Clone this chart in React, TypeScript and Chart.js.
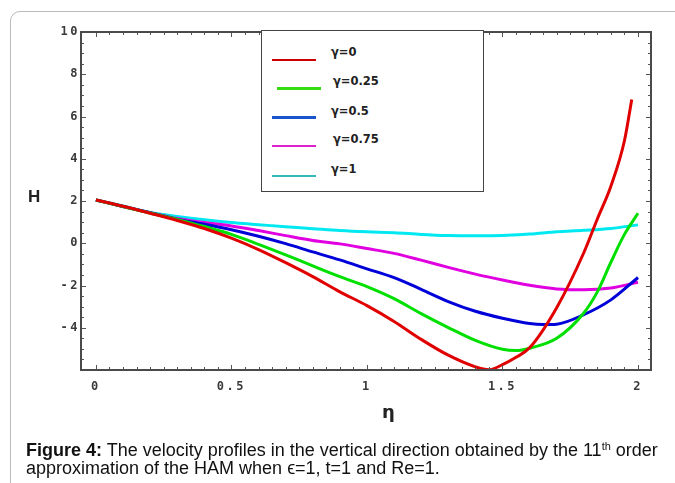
import React, { useEffect, useRef } from 'react';
import { Chart, registerables } from 'chart.js';

Chart.register(...registerables);

// ---- data ----
const gammaLabels = ['γ=0', 'γ=0.25', 'γ=0.5', 'γ=0.75', 'γ=1'];

const redEta = [0, 0.1, 0.2, 0.3, 0.4, 0.5, 0.6, 0.7, 0.8, 0.9, 1.0, 1.1, 1.2, 1.3, 1.4, 1.45, 1.5, 1.55, 1.6, 1.7, 1.8, 1.85, 1.9, 1.95, 1.977];
const redH = [2.05, 1.75, 1.42, 1.08, 0.7, 0.24, -0.3, -0.92, -1.58, -2.3, -2.95, -3.7, -4.55, -5.3, -5.85, -5.99, -5.75, -5.4, -4.95, -3.05, -0.45, 1.15, 2.7, 4.85, 6.81];

const greenEta = [0, 0.1, 0.2, 0.3, 0.4, 0.5, 0.6, 0.7, 0.8, 0.9, 1.0, 1.1, 1.2, 1.3, 1.4, 1.5, 1.55, 1.6, 1.7, 1.8, 1.85, 1.9, 1.95, 2.0];
const greenH = [2.05, 1.74, 1.43, 1.13, 0.79, 0.42, -0.05, -0.55, -1.07, -1.58, -2.05, -2.62, -3.33, -3.99, -4.6, -5.02, -5.08, -4.97, -4.5, -3.3, -2.3, -0.9, 0.42, 1.42];

const blueEta = [0, 0.1, 0.2, 0.3, 0.4, 0.5, 0.6, 0.7, 0.8, 0.9, 1.0, 1.1, 1.2, 1.3, 1.4, 1.5, 1.6, 1.65, 1.7, 1.8, 1.9, 2.0];
const blueH = [2.05, 1.74, 1.44, 1.13, 0.9, 0.64, 0.33, -0.02, -0.41, -0.79, -1.21, -1.63, -2.18, -2.76, -3.22, -3.55, -3.8, -3.85, -3.83, -3.38, -2.68, -1.62];

const magentaEta = [0, 0.1, 0.2, 0.3, 0.4, 0.5, 0.6, 0.7, 0.8, 0.9, 1.0, 1.1, 1.2, 1.3, 1.4, 1.5, 1.6, 1.7, 1.8, 1.9, 2.0];
const magentaH = [2.05, 1.74, 1.45, 1.17, 0.98, 0.82, 0.6, 0.36, 0.13, -0.03, -0.25, -0.48, -0.8, -1.14, -1.46, -1.74, -1.99, -2.16, -2.2, -2.12, -1.85];

const cyanEta = [0, 0.1, 0.2, 0.3, 0.4, 0.5, 0.6, 0.7, 0.8, 0.9, 1.0, 1.1, 1.2, 1.3, 1.4, 1.5, 1.6, 1.7, 1.8, 1.9, 2.0];
const cyanH = [2.05, 1.76, 1.46, 1.27, 1.11, 0.98, 0.88, 0.78, 0.69, 0.6, 0.54, 0.5, 0.42, 0.37, 0.36, 0.37, 0.44, 0.54, 0.61, 0.7, 0.87];

const xTickValues = [0, 0.5, 1, 1.5, 2];
const yTickValues = [-4, -2, 0, 2, 4, 6, 8, 10];

const lineColors = ['#e00000', '#00e000', '#0000d8', '#e000e0', '#00e8f0'];
const legendColors = ['#cc0000', '#33dd11', '#1a55cc', '#dd22cc', '#33bbbb'];

const seriesEta = [redEta, greenEta, blueEta, magentaEta, cyanEta];
const seriesH = [redH, greenH, blueH, magentaH, cyanH];

const framePlugin = {
  id: 'frame',
  beforeDraw(chart: any) {
    (chart.ctx as any).letterSpacing = '2.5px';
  },
  afterDraw(chart: any) {
    const { ctx, chartArea: a, scales } = chart;
    const x = scales.x;
    const y = scales.y;
    ctx.save();
    (ctx as any).letterSpacing = '0px';
    ctx.strokeStyle = '#555';
    ctx.lineWidth = 1;
    ctx.beginPath();
    for (let i = -12; i <= 20; i++) {
      const v = i * 0.5;
      const py = Math.round(y.getPixelForValue(v)) + 0.5;
      const len = i % 4 === 0 ? 5 : 3;
      ctx.moveTo(a.left, py);
      ctx.lineTo(a.left + len, py);
      ctx.moveTo(a.right, py);
      ctx.lineTo(a.right - len, py);
    }
    for (let i = 0; i <= 40; i++) {
      const v = i * 0.05;
      const px = Math.round(x.getPixelForValue(v)) + 0.5;
      const len = i % 10 === 0 ? 5 : 3;
      ctx.moveTo(px, a.bottom);
      ctx.lineTo(px, a.bottom - len);
      ctx.moveTo(px, a.top);
      ctx.lineTo(px, a.top + len);
    }
    ctx.stroke();
    ctx.lineWidth = 2;
    ctx.strokeStyle = '#4a4a4a';
    ctx.strokeRect(a.left, a.top, a.right - a.left, a.bottom - a.top);
    ctx.restore();
  },
};

function ChartCanvas() {
  const ref = useRef<HTMLCanvasElement>(null);
  useEffect(() => {
    if (!ref.current) return;
    const datasets = gammaLabels.map((label, i) => ({
      label,
      data: seriesEta[i].map((e, j) => ({ x: e, y: seriesH[i][j] })),
      borderColor: lineColors[i],
      backgroundColor: lineColors[i],
      borderWidth: 3,
      pointRadius: 0,
      cubicInterpolationMode: 'monotone' as const,
      fill: false,
    }));
    const tickFont = { family: 'DejaVu Sans Mono', weight: 'bold' as const, size: 12 };
    const chart = new Chart(ref.current, {
      type: 'line',
      data: { datasets },
      options: {
        animation: false,
        responsive: false,
        devicePixelRatio: 1,
        layout: { padding: { top: 32, right: 24, left: 0, bottom: 0 } },
        plugins: { legend: { display: false }, tooltip: { enabled: false } },
        scales: {
          x: {
            type: 'linear',
            min: -0.055,
            max: 2.048,
            grid: { display: false, drawTicks: false },
            border: { display: false },
            afterBuildTicks: (s: any) => {
              s.ticks = xTickValues.map((v) => ({ value: v }));
            },
            afterFit: (s: any) => {
              s.height = 113;
            },
            ticks: {
              padding: 10,
              color: '#3a3a3a',
              maxRotation: 0,
              autoSkip: false,
              font: tickFont,
              callback: (v: any) => String(v),
            },
          },
          y: {
            type: 'linear',
            min: -6,
            max: 10,
            grid: { display: false, drawTicks: false },
            border: { display: false },
            afterBuildTicks: (s: any) => {
              s.ticks = yTickValues.map((v) => ({ value: v }));
            },
            afterFit: (s: any) => {
              s.width = 81;
            },
            ticks: {
              padding: 1,
              color: '#3a3a3a',
              autoSkip: false,
              font: tickFont,
              callback: (v: any) => String(v),
            },
          },
        },
      },
      plugins: [framePlugin],
    });
    return () => chart.destroy();
  }, []);
  return (
    <canvas
      ref={ref}
      width={675}
      height={483}
      style={{ position: 'absolute', left: 0, top: 0, width: 675, height: 483 }}
    />
  );
}

export default function App() {
  return (
    <div
      style={{
        position: 'fixed',
        left: 0,
        top: 0,
        width: 675,
        height: 483,
        overflow: 'hidden',
        background: '#fff',
      }}
    >
      <div
        style={{
          position: 'absolute',
          left: 10,
          top: 11,
          width: 720,
          height: 520,
          border: '1px solid #bbb',
          borderRadius: 10,
        }}
      />
      <ChartCanvas />
      <div
        style={{
          position: 'absolute',
          left: 261,
          top: 30,
          width: 221,
          height: 160,
          border: '1.5px solid #444',
          background: '#fff',
        }}
      >
        {gammaLabels.map((lab, i) => {
          const lineY = [29, 57.5, 86.5, 115, 145][i];
          const textY = [21, 50, 80, 108, 138][i];
          const lx = i === 1 ? 15 : 10;
          const tx = i === 1 || i === 3 ? 71 : 69;
          return (
            <React.Fragment key={lab}>
              <div
                style={{
                  position: 'absolute',
                  left: lx,
                  top: lineY - 1.25,
                  width: 44,
                  height: 2.5,
                  background: legendColors[i],
                }}
              />
              <div
                style={{
                  position: 'absolute',
                  left: tx,
                  top: textY - 8,
                  height: 16,
                  lineHeight: '16px',
                  fontFamily: 'DejaVu Sans',
                  fontWeight: 'bold',
                  fontSize: 11.5,
                  color: '#222',
                  whiteSpace: 'nowrap',
                }}
              >
                {lab}
              </div>
            </React.Fragment>
          );
        })}
      </div>
      <div
        style={{
          position: 'absolute',
          left: 28,
          top: 187,
          fontFamily: 'Liberation Sans',
          fontWeight: 'bold',
          fontSize: 17,
          lineHeight: '20px',
          color: '#222',
        }}
      >
        H
      </div>
      <div
        style={{
          position: 'absolute',
          left: 382,
          top: 401,
          fontFamily: 'DejaVu Sans',
          fontWeight: 'bold',
          fontSize: 18,
          lineHeight: '22px',
          color: '#222',
        }}
      >
        η
      </div>
      <div
        style={{
          position: 'absolute',
          left: 26,
          top: 441,
          fontFamily: 'Liberation Sans, Arial, sans-serif',
          fontSize: 18,
          lineHeight: '18px',
          color: '#111',
          whiteSpace: 'nowrap',
        }}
      >
        <div>
          <b>Figure 4:</b> The velocity profiles in the vertical direction obtained by the 11
          <sup style={{ fontSize: 11, verticalAlign: 'top', lineHeight: '10px' }}>th</sup> order
        </div>
        <div>approximation of the HAM when ϵ=1, t=1 and Re=1.</div>
      </div>
    </div>
  );
}
